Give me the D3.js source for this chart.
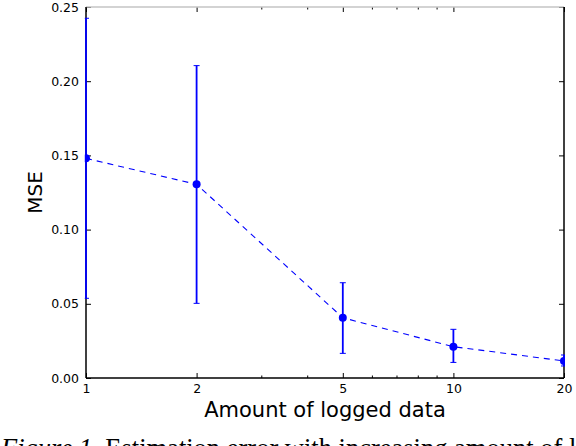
<!DOCTYPE html>
<html>
<head>
<meta charset="utf-8">
<script src="https://cdn.jsdelivr.net/npm/d3@7"></script>
<style>
html,body{margin:0;padding:0;background:#fff;overflow:hidden;}
svg{display:block;}
</style>
</head>
<body>
<svg id="chart" width="576" height="446"></svg>
<script>
const xVals = [1, 2, 5, 10, 20];
const mse = [0.148, 0.1305, 0.0406, 0.0211, 0.0115];
const errLow = [0.0537, 0.0503, 0.0166, 0.0105, 0.0081];
const errHigh = [0.2424, 0.2105, 0.0642, 0.0328, 0.0155];
const xTicks = [1, 2, 5, 10, 20];
const xMinorTicks = [3, 4, 6, 7, 8, 9];
const yTicks = [0, 0.05, 0.10, 0.15, 0.20, 0.25];
const xLabel = "Amount of logged data";
const yLabel = "MSE";
const captionHead = "Figure 1.";
const captionBody = " Estimation error with increasing amount of logged data.";

const W = 576, H = 446;
const m = {left: 86, right: 12, top: 7, bottom: 68};
const pw = W - m.left - m.right, ph = H - m.top - m.bottom;
const svg = d3.select("#chart");
const x = d3.scaleLog().domain([1, 20]).range([m.left, m.left + pw]);
const y = d3.scaleLinear().domain([0, 0.25]).range([m.top + ph, m.top]);
const data = xVals.map((v, i) => ({x: v, y: mse[i], lo: errLow[i], hi: errHigh[i]}));
const blue = "#0000ff";
const tickFont = "DejaVu Sans, sans-serif";

// clip
svg.append("clipPath").attr("id", "clip").append("rect")
  .attr("x", m.left - 1.2).attr("y", m.top - 1).attr("width", pw + 2.2).attr("height", ph + 2);

// axes (bottom, left) via d3
const xAxis = d3.axisBottom(x).tickValues(xTicks).tickFormat(d3.format("d")).tickSizeInner(-5).tickSizeOuter(0).tickPadding(6);
const gx = svg.append("g").attr("transform", `translate(0,${m.top + ph})`).call(xAxis);
gx.select(".domain").remove();
gx.selectAll("line").attr("stroke", "#000");
gx.selectAll("text").attr("font-family", tickFont).attr("font-size", 12.5).attr("fill", "#000");

const xMinorAxis = d3.axisBottom(x).tickValues(xMinorTicks).tickFormat("").tickSizeInner(-2.5).tickSizeOuter(0);
const gxm = svg.append("g").attr("transform", `translate(0,${m.top + ph})`).call(xMinorAxis);
gxm.select(".domain").remove();

// top ticks
const xTop = d3.axisTop(x).tickValues(xTicks).tickFormat("").tickSizeInner(-5).tickSizeOuter(0);
const gxt = svg.append("g").attr("transform", `translate(0,${m.top})`).call(xTop);
gxt.select(".domain").remove();
const xTopMinor = d3.axisTop(x).tickValues(xMinorTicks).tickFormat("").tickSizeInner(-2.5).tickSizeOuter(0);
const gxtm = svg.append("g").attr("transform", `translate(0,${m.top})`).call(xTopMinor);
gxtm.select(".domain").remove();

const yAxis = d3.axisLeft(y).tickValues(yTicks).tickFormat(d3.format(".2f")).tickSizeInner(-5).tickSizeOuter(0).tickPadding(7);
const gy = svg.append("g").attr("transform", `translate(${m.left},0)`).call(yAxis);
gy.select(".domain").remove();
gy.selectAll("text").attr("font-family", tickFont).attr("font-size", 12.5).attr("fill", "#000");

const yRight = d3.axisRight(y).tickValues(yTicks).tickFormat("").tickSizeInner(-5).tickSizeOuter(0);
const gyr = svg.append("g").attr("transform", `translate(${m.left + pw},0)`).call(yRight);
gyr.select(".domain").remove();

// spines
svg.append("line").attr("x1", m.left).attr("x2", m.left + pw).attr("y1", m.top).attr("y2", m.top)
  .attr("stroke", "#c4c4c4").attr("stroke-width", 1.5);
svg.append("line").attr("x1", m.left).attr("x2", m.left + pw).attr("y1", m.top + ph).attr("y2", m.top + ph)
  .attr("stroke", "#000").attr("stroke-width", 1.5);
svg.append("line").attr("x1", m.left).attr("x2", m.left).attr("y1", m.top).attr("y2", m.top + ph)
  .attr("stroke", "#000").attr("stroke-width", 1.5);
svg.append("line").attr("x1", m.left + pw).attr("x2", m.left + pw).attr("y1", m.top).attr("y2", m.top + ph)
  .attr("stroke", "#000").attr("stroke-width", 1.5);

// data
const gd = svg.append("g").attr("clip-path", "url(#clip)");
gd.append("path").datum(data)
  .attr("d", d3.line().x(d => x(d.x)).y(d => y(d.y)))
  .attr("fill", "none").attr("stroke", blue).attr("stroke-width", 1.1).attr("stroke-dasharray", "6,5");
const eb = gd.selectAll("g.eb").data(data).join("g").attr("class", "eb");
eb.append("line").attr("x1", d => x(d.x)).attr("x2", d => x(d.x)).attr("y1", d => y(d.lo)).attr("y2", d => y(d.hi))
  .attr("stroke", blue).attr("stroke-width", 1.8);
eb.append("line").attr("x1", d => x(d.x) - 3).attr("x2", d => x(d.x) + 3).attr("y1", d => y(d.lo)).attr("y2", d => y(d.lo))
  .attr("stroke", blue).attr("stroke-width", 1);
eb.append("line").attr("x1", d => x(d.x) - 3).attr("x2", d => x(d.x) + 3).attr("y1", d => y(d.hi)).attr("y2", d => y(d.hi))
  .attr("stroke", blue).attr("stroke-width", 1);
gd.selectAll("circle").data(data).join("circle")
  .attr("cx", d => x(d.x)).attr("cy", d => y(d.y)).attr("r", 4).attr("fill", blue);

// labels
svg.append("text").attr("x", m.left + pw / 2).attr("y", 417).attr("text-anchor", "middle")
  .attr("font-family", tickFont).attr("font-size", 21).text(xLabel);
svg.append("text").attr("transform", `translate(42,${m.top + ph / 2}) rotate(-90)`).attr("text-anchor", "middle")
  .attr("font-family", tickFont).attr("font-size", 20).text(yLabel);

// caption (cut off by the bottom edge, as in the reference)
const cap = svg.append("text").attr("x", 1).attr("y", 457)
  .attr("font-family", "Liberation Serif, serif").attr("font-size", 26.5);
cap.append("tspan").attr("font-style", "italic").text(captionHead);
cap.append("tspan").text(captionBody);
</script>
</body>
</html>
